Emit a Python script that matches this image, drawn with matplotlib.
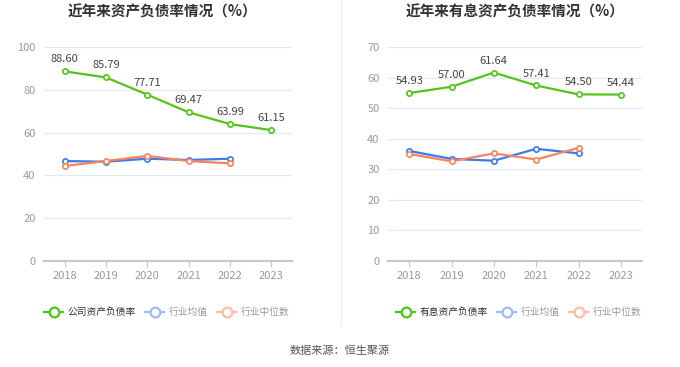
import matplotlib
matplotlib.use("Agg")
import matplotlib.pyplot as plt
from matplotlib.lines import Line2D

plt.rcParams['font.family'] = ['Noto Sans CJK SC', 'DejaVu Sans']

# -----------------------------
# DATA
# -----------------------------
years = ["2018", "2019", "2020", "2021", "2022", "2023"]

debt_ratio = [88.60, 85.79, 77.71, 69.47, 63.99, 61.15]
debt_ind_mean = [46.7, 46.4, 47.8, 47.2, 47.8]
debt_ind_median = [44.4, 46.7, 49.1, 46.7, 45.6]

int_ratio = [54.93, 57.00, 61.64, 57.41, 54.50, 54.44]
int_ind_mean = [36.0, 33.4, 32.8, 36.7, 35.2]
int_ind_median = [35.0, 32.6, 35.2, 33.2, 37.0]

GREEN = "#52c41a"
BLUE = "#3f7ae8"
ORANGE = "#f7845e"
BLUE_L = "#9fbcf3"
ORANGE_L = "#fbbda6"

W, H = 680, 367
fig = plt.figure(figsize=(W / 100, H / 100), dpi=100)


def px_axes(x0, x1, y0, y1):
    return fig.add_axes([x0 / W, 1 - y1 / H, (x1 - x0) / W, (y1 - y0) / H])


def draw_panel(ax, main, mean, median, ymax, step, title, cx):
    x = list(range(len(years)))
    ax.set_xlim(-0.5, len(years) - 0.5)
    ax.set_ylim(0, ymax)
    ax.set_yticks(range(0, ymax + 1, step))
    ax.set_xticks(x)
    ax.set_xticklabels(years)
    ax.grid(axis="y", color="#e4e8f4", linewidth=0.8)
    ax.set_axisbelow(True)
    for s in ["top", "right", "left"]:
        ax.spines[s].set_visible(False)
    ax.spines["bottom"].set_color("#c8c8c8")
    ax.spines["bottom"].set_linewidth(1.5)
    ax.tick_params(axis="y", length=0, labelsize=8, labelcolor="#999999", pad=6)
    ax.tick_params(axis="x", length=4, color="#c8c8c8", labelsize=8,
                   labelcolor="#999999", pad=3)

    mk = dict(marker="o", markersize=3.8, markerfacecolor="white",
              markeredgewidth=1.2, linewidth=1.6)
    ax.plot(x[:len(mean)], mean, color=BLUE, **mk, zorder=3)
    ax.plot(x[:len(median)], median, color=ORANGE, **mk, zorder=3)
    ax.plot(x, main, color=GREEN, **mk, zorder=4)
    for xi, v in zip(x, main):
        ax.annotate(f"{v:.2f}", (xi, v), xytext=(0, 5), textcoords="offset points",
                    ha="center", va="bottom", fontsize=8, color="#444444")

    fig.text(cx / W, 1 - 12 / H, title, ha="center", va="center",
             fontsize=10.5, fontweight="bold", color="#333333")


ax1 = px_axes(44, 292, 47, 261)
draw_panel(ax1, debt_ratio, debt_ind_mean, debt_ind_median, 100, 20,
           "近年来资产负债率情况（%）", 163)

ax2 = px_axes(388, 642, 47, 261)
draw_panel(ax2, int_ratio, int_ind_mean, int_ind_median, 70, 10,
           "近年来有息资产负债率情况（%）", 515)

# -----------------------------
# LEGENDS
# -----------------------------
def legend_item(x0, label, color, tcolor):
    y = 1 - 312 / H
    fig.add_artist(Line2D([x0 / W, (x0 + 19) / W], [y, y], color=color,
                          linewidth=1.6, transform=fig.transFigure))
    fig.add_artist(Line2D([(x0 + 9.5) / W], [y], marker="o", markersize=7,
                          markerfacecolor="white", markeredgecolor=color,
                          markeredgewidth=1.6, transform=fig.transFigure))
    fig.text((x0 + 24) / W, y, label, ha="left", va="center",
             fontsize=7, color=tcolor)


legend_item(44, "公司资产负债率", GREEN, "#333333")
legend_item(145, "行业均值", BLUE_L, "#999999")
legend_item(217, "行业中位数", ORANGE_L, "#999999")

legend_item(396, "有息资产负债率", GREEN, "#333333")
legend_item(497, "行业均值", BLUE_L, "#999999")
legend_item(569, "行业中位数", ORANGE_L, "#999999")

# divider
fig.add_artist(Line2D([341 / W, 341 / W], [1 - 325 / H, 1], color="#eeeeee",
                      linewidth=1, transform=fig.transFigure))

fig.text(0.5, 1 - 351 / H, "数据来源：恒生聚源", ha="center", va="center",
         fontsize=8, color="#555555")

plt.savefig("out.png", dpi=100)
